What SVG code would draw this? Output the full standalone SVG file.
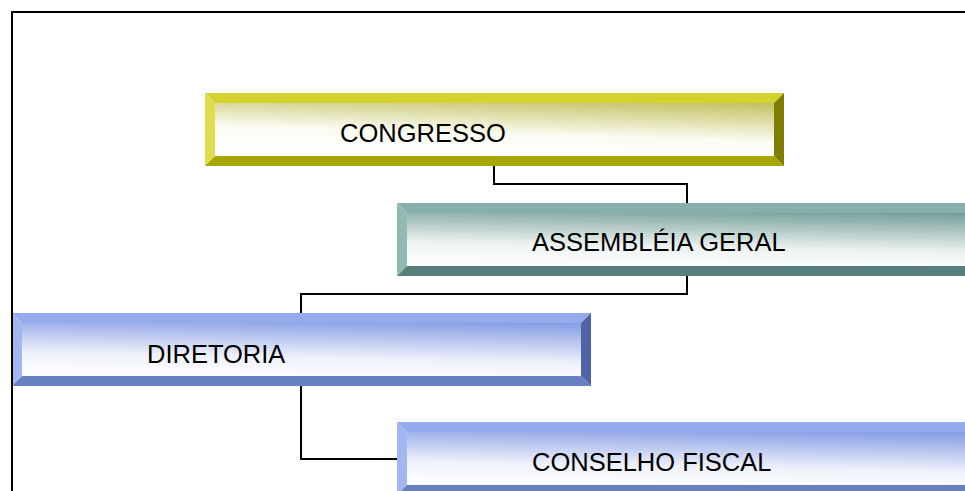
<svg xmlns="http://www.w3.org/2000/svg" width="965" height="491" viewBox="0 0 965 491">
  <defs>
    <linearGradient id="gY" x1="0.95" y1="0" x2="0.65" y2="1">
      <stop offset="0" stop-color="#c4c262"/>
      <stop offset="0.65" stop-color="#fbfbf2"/>
      <stop offset="1" stop-color="#ffffff"/>
    </linearGradient>
    <linearGradient id="gT" x1="0.9" y1="0" x2="0.7" y2="1">
      <stop offset="0" stop-color="#77a09a"/>
      <stop offset="0.7" stop-color="#eef3f2"/>
      <stop offset="1" stop-color="#fafcfc"/>
    </linearGradient>
    <linearGradient id="gB" x1="0.9" y1="0" x2="0.7" y2="1">
      <stop offset="0" stop-color="#879ee4"/>
      <stop offset="0.7" stop-color="#eef1fb"/>
      <stop offset="1" stop-color="#fbfcff"/>
    </linearGradient>
  </defs>
  <style>
    .lbl { font-family: "Liberation Sans", Arial, sans-serif; font-size: 25.5px; fill: #000; }
    .conn { fill: none; stroke: #000; stroke-width: 2; }
    .frame { fill: none; stroke: #000; stroke-width: 2; }
    .y .t { fill: #d4d22e; } .y .l { fill: #dedc52; } .y .b { fill: #a8a600; } .y .r { fill: #7f7e00; } .y .f { fill: url(#gY); }
    .g .t { fill: #86afaa; } .g .l { fill: #92b9b4; } .g .b { fill: #567e7a; } .g .r { fill: #3f6460; } .g .f { fill: url(#gT); }
    .u .t { fill: #93aaec; } .u .l { fill: #a2b6ef; } .u .b { fill: #6680c0; } .u .r { fill: #4f64a6; } .u .f { fill: url(#gB); }
  </style>
  <rect width="965" height="491" fill="#ffffff"/>

  <g id="connectors">
    <polyline class="conn" points="494,166 494,184 687,184 687,203"/>
    <polyline class="conn" points="687,276 687,294 301,294 301,313"/>
    <polyline class="conn" points="301,386 301,459 398,459"/>
  </g>

  <g id="congresso" class="y" transform="translate(205,93)">
    <rect class="f" x="10" y="10" width="559" height="53"/>
    <polygon class="t" points="0,0 579,0 569,10 10,10"/>
    <polygon class="l" points="0,0 10,10 10,63 0,73"/>
    <polygon class="b" points="0,73 10,63 569,63 579,73"/>
    <polygon class="r" points="579,0 579,73 569,63 569,10"/>
    <text class="lbl" x="135" y="49">CONGRESSO</text>
  </g>

  <g id="assembleia" class="g" transform="translate(397,203)">
    <rect class="f" x="10" y="10" width="559" height="53"/>
    <polygon class="t" points="0,0 579,0 569,10 10,10"/>
    <polygon class="l" points="0,0 10,10 10,63 0,73"/>
    <polygon class="b" points="0,73 10,63 569,63 579,73"/>
    <polygon class="r" points="579,0 579,73 569,63 569,10"/>
    <text class="lbl" x="135" y="48">ASSEMBLÉIA GERAL</text>
  </g>

  <g id="diretoria" class="u" transform="translate(12,313)">
    <rect class="f" x="10" y="10" width="559" height="53"/>
    <polygon class="t" points="0,0 579,0 569,10 10,10"/>
    <polygon class="l" points="0,0 10,10 10,63 0,73"/>
    <polygon class="b" points="0,73 10,63 569,63 579,73"/>
    <polygon class="r" points="579,0 579,73 569,63 569,10"/>
    <text class="lbl" x="135" y="50">DIRETORIA</text>
  </g>

  <g id="conselho" class="u" transform="translate(397,422)">
    <rect class="f" x="10" y="10" width="559" height="53"/>
    <polygon class="t" points="0,0 579,0 569,10 10,10"/>
    <polygon class="l" points="0,0 10,10 10,63 0,73"/>
    <polygon class="b" points="0,73 10,63 569,63 579,73"/>
    <polygon class="r" points="579,0 579,73 569,63 569,10"/>
    <text class="lbl" x="135" y="49">CONSELHO FISCAL</text>
  </g>

  <polyline class="frame" points="12,491 12,12 965,12"/>
</svg>
